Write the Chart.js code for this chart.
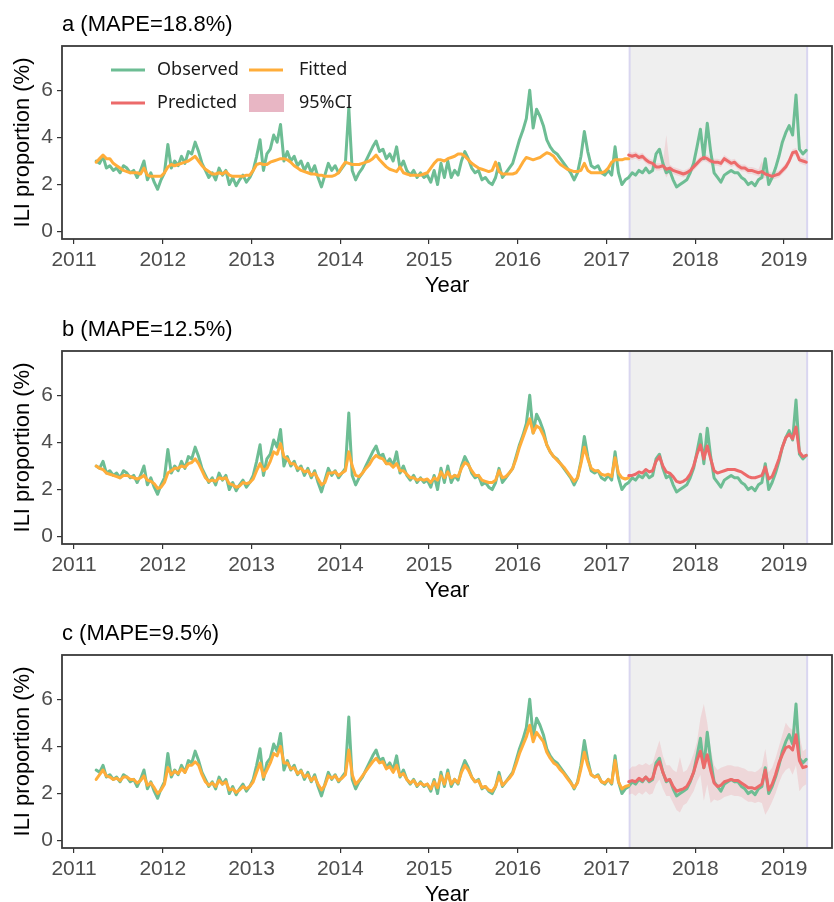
<!DOCTYPE html>
<html>
<head>
<meta charset="utf-8">
<script src="https://cdn.jsdelivr.net/npm/chart.js@4.4.1/dist/chart.umd.min.js"></script>
<style>
  html, body { margin: 0; padding: 0; background: #fff; overflow: hidden; }
  .panel { position: absolute; left: 0; width: 834px; height: 300px; }
</style>
</head>
<body>
<div class="panel" style="top:0px"><canvas id="chartA"></canvas></div>
<div class="panel" style="top:305px"><canvas id="chartB"></canvas></div>
<div class="panel" style="top:609px"><canvas id="chartC"></canvas></div>
<script>
// weekly ILI series, read every second week from April 2011 to April 2019
const startYear = 2011.25;
const stepYears = 1 / 26;
const forecastIndex = 156;          // first predicted point (April 2017)
const forecastStart = 2017.26;
const forecastEnd = 2019.26;
const yearTicks = [2011, 2012, 2013, 2014, 2015, 2016, 2017, 2018, 2019];
const yTicks = [0, 2, 4, 6];

const observed = [
  3.0, 2.9, 3.2, 2.7, 2.8, 2.6, 2.7, 2.5, 2.8, 2.7, 2.5, 2.6, 2.3, 2.6, 3.0, 2.2, 2.5, 2.1, 1.8, 2.2, 2.5, 3.7, 2.7, 3.0, 2.8, 3.2,
  2.9, 3.4, 3.3, 3.8, 3.4, 2.9, 2.6, 2.3, 2.5, 2.2, 2.7, 2.4, 2.6, 2.0, 2.3, 1.95, 2.2, 2.4, 2.1, 2.3, 2.6, 3.2, 3.9, 2.6, 3.3, 3.5,
  4.1, 3.8, 4.55, 3.0, 3.4, 3.0, 3.2, 2.8, 3.0, 2.6, 2.9, 2.5, 2.8, 2.3, 1.9, 2.4, 2.9, 2.6, 2.8, 2.5, 2.7, 2.9, 5.25, 2.6, 2.2, 2.5,
  2.7, 3.0, 3.3, 3.6, 3.85, 3.4, 3.5, 3.1, 3.3, 3.0, 3.6, 2.7, 3.0, 2.6, 2.4, 2.6, 2.3, 2.5, 2.3, 2.4, 2.1, 2.6, 2.0, 2.9, 2.3, 3.0,
  2.3, 2.6, 2.4, 3.0, 3.4, 3.1, 2.7, 2.5, 2.6, 2.2, 2.3, 2.1, 2.0, 2.3, 2.9, 2.3, 2.5, 2.7, 2.9, 3.4, 3.9, 4.3, 4.8, 6.0, 4.4, 5.2,
  4.9, 4.5, 3.9, 3.6, 3.4, 3.3, 3.1, 2.9, 2.7, 2.5, 2.2, 2.5, 3.2, 4.25, 3.4, 2.8, 2.7, 2.8, 2.5, 2.4, 2.6, 2.4, 3.6, 2.5, 2.0, 2.2,
  2.3, 2.5, 2.4, 2.6, 2.5, 2.7, 2.5, 2.6, 3.3, 3.5, 2.9, 2.5, 2.6, 2.2, 1.9, 2.0, 2.1, 2.2, 2.5, 2.9, 3.6, 4.35, 3.1, 4.6, 3.4, 2.5,
  2.3, 2.1, 2.4, 2.5, 2.6, 2.5, 2.5, 2.3, 2.2, 2.0, 2.1, 1.95, 2.2, 2.3, 3.1, 2.0, 2.3, 2.7, 3.2, 3.8, 4.2, 4.5, 4.1, 5.8, 3.5, 3.3, 3.45
];

const fittedA = [
  2.95, 3.1, 3.25, 3.1, 3.1, 2.9, 2.8, 2.7, 2.6, 2.55, 2.5, 2.5, 2.5, 2.45, 2.7, 2.4, 2.35, 2.35, 2.35, 2.35, 2.5, 2.75, 2.85, 2.8, 2.85, 2.9,
  2.95, 3.0, 3.1, 3.2, 3.0, 2.8, 2.65, 2.55, 2.45, 2.45, 2.5, 2.45, 2.55, 2.4, 2.35, 2.35, 2.35, 2.35, 2.4, 2.4, 2.6, 2.85, 2.9, 2.85, 2.85, 2.95,
  3.0, 3.05, 3.1, 3.1, 3.05, 2.95, 2.8, 2.7, 2.6, 2.55, 2.5, 2.45, 2.45, 2.4, 2.4, 2.35, 2.35, 2.35, 2.4, 2.5, 2.75, 2.95, 2.9, 2.85, 2.85, 2.85,
  2.9, 2.95, 3.0, 3.1, 3.25, 3.05, 2.9, 2.75, 2.65, 2.6, 2.55, 2.75, 2.5, 2.45, 2.4, 2.4, 2.4, 2.4, 2.45, 2.5, 2.7, 2.9, 3.05, 3.05, 3.0, 3.1,
  3.15, 3.2, 3.3, 3.3, 3.2, 3.05, 2.9, 2.8, 2.7, 2.65, 2.6, 2.55, 2.6, 2.95, 2.55, 2.45, 2.45, 2.45, 2.45, 2.5, 2.7, 2.95, 3.15, 3.1, 3.05, 3.1,
  3.15, 3.25, 3.35, 3.3, 3.2, 3.0, 2.85, 2.75, 2.65, 2.6, 2.55, 2.55, 2.6, 2.9, 2.6, 2.5, 2.5, 2.5, 2.5, 2.55, 2.7, 2.95, 3.05, 3.05, 3.05, 3.1,
  3.1
];

const fittedB = [
  3.0, 2.9, 2.85, 2.7, 2.65, 2.6, 2.55, 2.5, 2.6, 2.6, 2.55, 2.5, 2.45, 2.5, 2.6, 2.4, 2.35, 2.25, 2.05, 2.1, 2.3, 2.7, 2.8, 2.9, 2.9, 3.0,
  2.95, 3.1, 3.15, 3.3, 3.1, 2.8, 2.5, 2.35, 2.4, 2.35, 2.5, 2.45, 2.5, 2.25, 2.2, 2.1, 2.15, 2.3, 2.25, 2.3, 2.45, 2.8, 3.1, 2.8, 2.9, 3.2,
  3.6, 3.5, 3.95, 3.4, 3.3, 3.1, 3.1, 2.9, 2.9, 2.75, 2.8, 2.6, 2.7, 2.45, 2.2, 2.3, 2.7, 2.7, 2.75, 2.6, 2.7, 2.8, 3.6, 3.0, 2.6, 2.55,
  2.7, 2.9, 3.05, 3.3, 3.45, 3.35, 3.3, 3.1, 3.1, 2.95, 3.1, 2.8, 2.8, 2.65, 2.5, 2.5, 2.4, 2.45, 2.4, 2.45, 2.3, 2.5, 2.4, 2.75, 2.5, 2.75,
  2.5, 2.6, 2.55, 2.9, 3.15, 3.05, 2.8, 2.6, 2.6, 2.4, 2.35, 2.3, 2.3, 2.4, 2.8, 2.5, 2.55, 2.7, 2.9, 3.3, 3.8, 4.2, 4.6, 5.0, 4.4, 4.7,
  4.6, 4.3, 3.9, 3.6, 3.4, 3.25, 3.1, 2.95, 2.75, 2.55, 2.35, 2.5, 3.1, 3.8, 3.3, 2.9, 2.8, 2.8, 2.65, 2.6, 2.65, 2.55, 3.35, 2.7, 2.5, 2.45,
  2.5
];

const fittedC = [
  2.6, 2.8, 3.0, 2.75, 2.7, 2.6, 2.65, 2.55, 2.7, 2.7, 2.6, 2.6, 2.45, 2.55, 2.75, 2.35, 2.45, 2.25, 2.0, 2.15, 2.4, 3.1, 2.8, 2.95, 2.85, 3.05,
  2.9, 3.2, 3.2, 3.35, 3.2, 2.8, 2.5, 2.35, 2.45, 2.3, 2.55, 2.4, 2.5, 2.15, 2.2, 2.05, 2.15, 2.3, 2.2, 2.3, 2.5, 2.9, 3.3, 2.7, 3.0, 3.3,
  3.7, 3.6, 4.0, 3.3, 3.3, 3.05, 3.1, 2.85, 2.95, 2.7, 2.8, 2.55, 2.7, 2.4, 2.15, 2.35, 2.75, 2.65, 2.75, 2.55, 2.65, 2.8, 3.85, 2.8, 2.4, 2.55,
  2.75, 2.95, 3.15, 3.35, 3.5, 3.3, 3.35, 3.05, 3.15, 2.9, 3.2, 2.75, 2.85, 2.6, 2.45, 2.55, 2.35, 2.45, 2.35, 2.4, 2.2, 2.5, 2.25, 2.75, 2.4, 2.85,
  2.4, 2.6, 2.45, 2.9, 3.2, 3.0, 2.7, 2.5, 2.55, 2.25, 2.3, 2.15, 2.1, 2.3, 2.75, 2.35, 2.5, 2.65, 2.85, 3.25, 3.7, 4.05, 4.4, 4.9, 4.2, 4.6,
  4.4, 4.2, 3.75, 3.5, 3.3, 3.2, 3.0, 2.85, 2.65, 2.45, 2.25, 2.45, 3.05, 3.75, 3.2, 2.8, 2.7, 2.75, 2.5, 2.45, 2.6, 2.45, 3.4, 2.5, 2.2, 2.3,
  2.35
];

const predictedA = [
  3.25, 3.2, 3.25, 3.15, 3.2, 3.05, 2.95, 2.9, 2.75, 2.75, 2.8, 2.65, 2.7, 2.6, 2.55, 2.5, 2.45, 2.5, 2.6, 2.75, 2.9, 3.05, 3.15, 3.1, 3.0, 2.95,
  2.95, 2.9, 3.1, 3.0, 2.9, 2.95, 2.8, 2.7, 2.7, 2.6, 2.6, 2.55, 2.5, 2.55, 2.45, 2.4, 2.35, 2.4, 2.45, 2.6, 2.75, 3.0, 3.35, 3.4, 3.05, 3.0, 2.95
];
const ciLowA = [
  3.1, 3.05, 3.1, 3.0, 3.05, 2.9, 2.8, 2.75, 2.6, 2.6, 2.65, 2.3, 2.55, 2.45, 2.4, 2.35, 2.3, 2.35, 2.45, 2.6, 2.75, 2.9, 3.0, 2.95, 2.85, 2.8,
  2.8, 2.75, 2.95, 2.85, 2.75, 2.8, 2.65, 2.55, 2.55, 2.45, 2.45, 2.4, 2.35, 2.2, 2.3, 2.25, 2.2, 2.25, 2.3, 2.45, 2.6, 2.85, 3.2, 3.25, 2.9, 2.85, 2.8
];
const ciHighA = [
  3.4, 3.35, 3.4, 3.3, 3.35, 3.2, 3.1, 3.05, 2.9, 2.9, 2.95, 4.1, 2.85, 2.75, 2.7, 2.65, 2.6, 2.65, 2.75, 2.9, 3.05, 3.2, 3.3, 3.25, 3.15, 3.1,
  3.1, 3.05, 3.25, 3.15, 3.05, 3.1, 2.95, 2.85, 2.85, 2.75, 2.75, 2.7, 2.65, 3.0, 2.6, 2.55, 2.5, 2.55, 2.6, 2.75, 2.9, 3.15, 3.5, 3.55, 3.2, 3.15, 3.1
];

const predictedB = [
  2.6, 2.6, 2.65, 2.75, 2.7, 2.85, 2.75, 2.8, 3.2, 3.4, 3.0, 2.75, 2.7, 2.55, 2.35, 2.3, 2.35, 2.45, 2.65, 3.0, 3.5, 3.9, 3.3, 3.85, 3.3, 2.8,
  2.7, 2.75, 2.8, 2.85, 2.85, 2.85, 2.8, 2.75, 2.65, 2.55, 2.5, 2.5, 2.55, 2.6, 2.95, 2.45, 2.55, 2.9, 3.3, 3.8, 4.2, 4.35, 4.15, 4.65, 3.6, 3.4, 3.45
];

const predictedC = [
  2.5, 2.55, 2.5, 2.65, 2.55, 2.7, 2.55, 2.65, 3.15, 3.35, 2.9, 2.55, 2.6, 2.3, 2.1, 2.15, 2.2, 2.3, 2.55, 2.9, 3.4, 3.8, 3.1, 3.65, 3.0, 2.45,
  2.3, 2.35, 2.5, 2.55, 2.6, 2.55, 2.55, 2.45, 2.35, 2.25, 2.25, 2.2, 2.3, 2.4, 3.0, 2.15, 2.4, 2.8, 3.3, 3.65, 3.95, 4.0, 3.85, 4.5, 3.4, 3.1, 3.15
];
const ciLowC = [
  1.95, 2.0, 1.9, 2.05, 1.95, 2.1, 1.95, 2.0, 2.4, 2.6, 2.2, 1.9, 1.9, 1.6, 1.3, 1.2, 1.5, 1.6, 1.85, 2.1, 2.5, 2.8, 1.7, 2.4, 1.6, 1.75,
  1.7, 1.75, 1.85, 1.9, 1.95, 1.9, 1.9, 1.85, 1.75, 1.65, 1.65, 1.6, 1.65, 1.6, 1.1, 1.35, 1.65, 2.0, 2.45, 2.8, 3.0, 3.1, 2.8, 3.2, 2.1, 2.3, 2.4
];
const ciHighC = [
  3.0, 3.15, 3.15, 3.25, 3.2, 3.3, 3.2, 3.3, 3.8, 4.25, 3.6, 3.2, 3.2, 3.0, 2.9, 3.55, 2.9, 3.0, 3.3, 3.7, 4.2, 5.2, 5.8, 5.0, 3.9, 3.2,
  3.0, 3.1, 3.15, 3.2, 3.2, 3.15, 3.15, 3.1, 3.05, 2.95, 2.95, 2.9, 3.0, 3.15, 3.9, 2.9, 3.1, 3.5, 4.0, 4.5, 5.0, 4.8, 4.7, 5.4, 4.5, 3.8, 3.9
];

const green = '#6dbd94';
const orange = '#ffad3a';
const red = '#ec6a6a';
const ciFill = 'rgba(236, 120, 130, 0.2)';
const fontFamily = '"Liberation Sans", Arial, sans-serif';

Chart.defaults.animation = false;
Chart.defaults.font.family = fontFamily;

function toPoints(values, offset) {
  return values.map((v, i) => ({ x: startYear + (offset + i) * stepYears, y: v }));
}

const panelDecor = {
  id: 'panelDecor',
  beforeDatasetsDraw(chart) {
    const { ctx, chartArea, scales } = chart;
    const x0 = scales.x.getPixelForValue(forecastStart);
    const x1 = scales.x.getPixelForValue(forecastEnd);
    ctx.save();
    ctx.fillStyle = '#efefef';
    ctx.fillRect(x0, chartArea.top, x1 - x0, chartArea.bottom - chartArea.top);
    ctx.strokeStyle = '#d9d6f0';
    ctx.lineWidth = 2;
    ctx.beginPath();
    ctx.moveTo(x0, chartArea.top); ctx.lineTo(x0, chartArea.bottom);
    ctx.moveTo(x1, chartArea.top); ctx.lineTo(x1, chartArea.bottom);
    ctx.stroke();
    ctx.restore();
  },
  afterDraw(chart, args, opts) {
    const { ctx, chartArea } = chart;
    ctx.save();
    ctx.strokeStyle = '#3a3a3a';
    ctx.lineWidth = 1.8;
    ctx.strokeRect(chartArea.left, chartArea.top, chartArea.right - chartArea.left, chartArea.bottom - chartArea.top);

    ctx.fillStyle = '#000';
    ctx.font = '22px ' + fontFamily;
    ctx.textBaseline = 'middle';
    ctx.textAlign = 'left';
    ctx.fillText(opts.title, chartArea.left, chartArea.top - 21);

    if (opts.legend) {
      ctx.font = '18px "Noto Sans", sans-serif';
      ctx.fillStyle = '#1a1a1a';
      ctx.lineWidth = 3;
      const rows = [
        [{ color: green, text: 'Observed' }, { color: orange, text: 'Fitted' }],
        [{ color: red, text: 'Predicted' }, { box: '#e8b6c4', text: '95%CI' }]
      ];
      const rowY = [70, 103];
      const colX = [111, 249];
      rows.forEach((row, r) => {
        row.forEach((item, c) => {
          const x = colX[c], y = rowY[r];
          if (item.box) {
            ctx.fillStyle = item.box;
            ctx.fillRect(x, y - 9, 35, 18);
          } else {
            ctx.strokeStyle = item.color;
            ctx.beginPath(); ctx.moveTo(x, y); ctx.lineTo(x + 34, y); ctx.stroke();
          }
          ctx.fillStyle = '#1a1a1a';
          ctx.fillText(item.text, x + 46 + (c === 1 ? 4 : 0), y);
        });
      });
    }
    ctx.restore();
  }
};

function lineSet(label, data, color) {
  return {
    label, data, borderColor: color, borderWidth: 3, pointRadius: 0,
    tension: 0, fill: false, borderJoinStyle: 'round', borderCapStyle: 'round'
  };
}

function makePanel(id, title, fitted, predicted, ciLow, ciHigh, showLegend) {
  const datasets = [
    lineSet('Predicted', toPoints(predicted, forecastIndex), red),
    lineSet('Fitted', toPoints(fitted, 0), orange),
    lineSet('Observed', toPoints(observed, 0), green)
  ];
  if (ciLow) {
    datasets.push({ label: '95%CI low', data: toPoints(ciLow, forecastIndex), borderColor: 'rgba(0,0,0,0)',
      borderWidth: 0, pointRadius: 0, fill: false, tension: 0 });
    datasets.push({ label: '95%CI', data: toPoints(ciHigh, forecastIndex), borderColor: 'rgba(0,0,0,0)',
      borderWidth: 0, pointRadius: 0, fill: '-1', backgroundColor: ciFill, tension: 0 });
  }
  new Chart(document.getElementById(id), {
    type: 'line',
    data: { datasets },
    plugins: [panelDecor],
    options: {
      responsive: true,
      maintainAspectRatio: false,
      layout: { padding: { left: 0, right: 2, top: 46, bottom: 0 } },
      plugins: {
        legend: { display: false },
        tooltip: { enabled: false },
        panelDecor: { title, legend: showLegend }
      },
      scales: {
        x: {
          type: 'linear', min: 2010.865, max: 2019.54,
          afterFit: s => { s.height = 61; },
          afterBuildTicks: s => { s.ticks = yearTicks.map(v => ({ value: v })); },
          ticks: { autoSkip: false, maxRotation: 0, padding: 4, color: '#4d4d4d',
            font: { size: 21 }, callback: v => String(v) },
          grid: { drawOnChartArea: false, tickLength: 5, color: '#333', lineWidth: 1.2 },
          border: { display: false },
          title: { display: true, text: 'Year', color: '#000', font: { size: 22 }, padding: { top: 0, bottom: 1 } }
        },
        y: {
          min: -0.31, max: 7.88,
          afterFit: s => { s.width = 62; },
          afterBuildTicks: s => { s.ticks = yTicks.map(v => ({ value: v })); },
          ticks: { padding: 4, color: '#4d4d4d', font: { size: 21 } },
          grid: { drawOnChartArea: false, tickLength: 5, color: '#333', lineWidth: 1.2 },
          border: { display: false },
          title: { display: true, text: 'ILI proportion (%)', color: '#000', font: { size: 22 }, padding: { top: 10, bottom: 0 } }
        }
      }
    }
  });
}

makePanel('chartA', 'a (MAPE=18.8%)', fittedA, predictedA, ciLowA, ciHighA, true);
makePanel('chartB', 'b (MAPE=12.5%)', fittedB, predictedB, null, null, false);
makePanel('chartC', 'c (MAPE=9.5%)', fittedC, predictedC, ciLowC, ciHighC, false);
</script>
</body>
</html>
